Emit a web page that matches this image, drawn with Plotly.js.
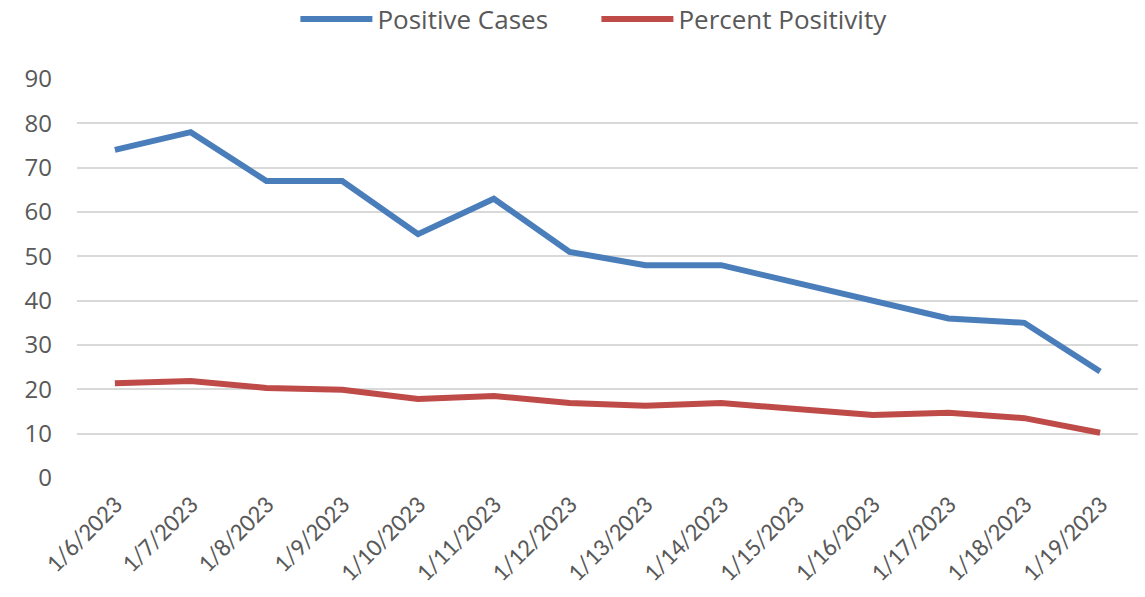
<!DOCTYPE html>
<html>
<head>
<meta charset="utf-8">
<script src="https://cdn.plot.ly/plotly-3.0.1.min.js"></script>
<style>
  html, body { margin: 0; padding: 0; background: #fff; }
  #graph { width: 1145px; height: 597px; }
</style>
</head>
<body>
<div id="graph"></div>
<script>
var dates = ['1/6/2023', '1/7/2023', '1/8/2023', '1/9/2023', '1/10/2023', '1/11/2023', '1/12/2023',
	'1/13/2023', '1/14/2023', '1/15/2023', '1/16/2023', '1/17/2023', '1/18/2023', '1/19/2023'];
var positiveCases = [74, 78, 67, 67, 55, 63, 51, 48, 48, 44, 40, 36, 35, 24];
var percentPositivity = [21.4, 21.9, 20.3, 19.9, 17.8, 18.5, 16.9, 16.3, 16.9, 15.6, 14.2, 14.7, 13.5, 10.2];
var yTicks = [0, 10, 20, 30, 40, 50, 60, 70, 80, 90];

var labelFont = 'Carlito, Calibri, "Liberation Sans", sans-serif';
var sansFont = '"Open Sans", "DejaVu Sans", sans-serif';

var data = [{
	x: dates,
	y: positiveCases,
	type: 'scatter',
	mode: 'lines',
	line: {color: '#4a7ebb', width: 6},
	name: 'Positive Cases'
},{
	x: dates,
	y: percentPositivity,
	type: 'scatter',
	mode: 'lines',
	line: {color: '#be4b48', width: 6},
	name: 'Percent Positivity'
}];

var layout = {
	width: 1145,
	height: 597,
	margin: {l: 77, r: 7, t: 79, b: 119},
	paper_bgcolor: '#fff',
	plot_bgcolor: '#fff',
	font: {family: sansFont, color: '#595959', size: 20},
	showlegend: true,
	legend: {
		orientation: 'h',
		xref: 'container', yref: 'container',
		x: 0.258, xanchor: 'left',
		y: 0.968, yanchor: 'middle',
		font: {family: sansFont, size: 26, color: '#595959'},
		itemwidth: 72,
		entrywidth: 214,
		tracegroupgap: 0
	},
	xaxis: {
		type: 'category',
		range: [-0.5, 13.5],
		tickangle: -45,
		showgrid: false,
		zeroline: false,
		showline: false,
		ticks: '',
		ticklabelstandoff: 6,
		tickfont: {family: labelFont, size: 25, color: '#595959'}
	},
	yaxis: {
		range: [0, 90],
		tickvals: yTicks,
		showgrid: true,
		gridcolor: '#d9d9d9',
		gridwidth: 2,
		zeroline: false,
		showline: false,
		ticks: '',
		ticklabelstandoff: 24,
		tickfont: {family: sansFont, size: 24, color: '#595959'}
	}
};

Plotly.newPlot('graph', data, layout, {displayModeBar: false});
</script>
</body>
</html>
